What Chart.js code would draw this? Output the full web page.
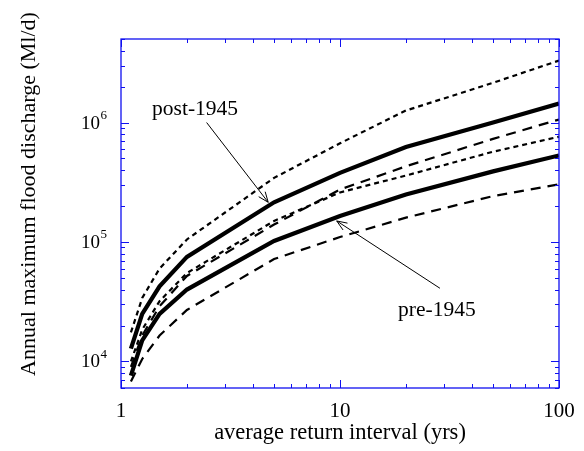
<!DOCTYPE html>
<html>
<head>
<meta charset="utf-8">
<script src="https://cdn.jsdelivr.net/npm/chart.js@4.4.1/dist/chart.umd.min.js"></script>
<style>
  body { margin: 0; background: #fff; }
  #wrap { width: 584px; height: 451px; }
</style>
</head>
<body>
<div id="wrap"><canvas id="floodChart" width="584" height="451"></canvas></div>
<script>
'use strict';

// average return interval (yrs)
let returnPeriods = [1.11, 1.25, 1.5, 2, 5, 10, 20, 50, 100];

// annual maximum flood discharge (Ml/d)
let post1945 = [12800, 25000, 42500, 75000, 215000, 379000, 624000, 1000000, 1440000];
let post1945Upper = [17500, 34000, 60000, 105000, 344000, 670000, 1260000, 2150000, 3300000];
let post1945Lower = [10000, 18500, 32000, 55000, 150000, 260000, 360000, 570000, 760000];
let pre1945 = [7600, 15000, 25000, 40000, 102000, 165000, 250000, 390000, 530000];
let pre1945Upper = [9000, 16500, 29000, 52000, 140000, 275000, 430000, 730000, 1060000];
let pre1945Lower = [6800, 10500, 16500, 27000, 72000, 110000, 160000, 242000, 304000];

let xTickLabels = [1, 10, 100];
let yTickExponents = [4, 5, 6];

const axisBlue = '#1010f0';
const serif = '"Liberation Serif", "Times New Roman", serif';

function toPoints(values) {
    return returnPeriods.map((t, i) => ({ x: t, y: values[i] }));
}

function series(values, width, dash) {
    return {
        data: toPoints(values),
        borderColor: '#000',
        borderWidth: width,
        borderDash: dash,
        pointRadius: 0,
        tension: 0,
        fill: false
    };
}

// inward ticks on all four sides, y labels with superscripts, arrows
let framePlugin = {
    id: 'frame',
    afterDraw(chart) {
        let ctx = chart.ctx;
        let area = chart.chartArea;
        let xs = chart.scales.x;
        let ys = chart.scales.y;
        ctx.save();

        ctx.strokeStyle = axisBlue;
        ctx.lineWidth = 1.3;
        ctx.strokeRect(area.left, area.top, area.right - area.left, area.bottom - area.top);

        ctx.lineWidth = 1;
        ctx.beginPath();
        for (let d = 0; d <= 2; d++) {
            for (let k = 1; k <= 9; k++) {
                let v = k * Math.pow(10, d);
                if (v > 100) continue;
                let px = Math.round(xs.getPixelForValue(v)) + 0.5;
                let len = k === 1 ? 8 : 4;
                ctx.moveTo(px, area.bottom);
                ctx.lineTo(px, area.bottom - len);
                ctx.moveTo(px, area.top);
                ctx.lineTo(px, area.top + len);
            }
        }
        for (let d = 3; d <= 6; d++) {
            for (let k = 1; k <= 9; k++) {
                let v = k * Math.pow(10, d);
                if (v < ys.min || v > ys.max) continue;
                let py = Math.round(ys.getPixelForValue(v)) + 0.5;
                let len = k === 1 ? 8 : 4;
                ctx.moveTo(area.left, py);
                ctx.lineTo(area.left + len, py);
                ctx.moveTo(area.right, py);
                ctx.lineTo(area.right - len, py);
            }
        }
        ctx.stroke();

        // y tick labels 10^n
        ctx.fillStyle = '#000';
        ctx.textBaseline = 'middle';
        yTickExponents.forEach(e => {
            let py = ys.getPixelForValue(Math.pow(10, e));
            ctx.font = '19px ' + serif;
            ctx.textAlign = 'right';
            ctx.fillText('10', 100, py + 1);
            ctx.font = '13px ' + serif;
            ctx.textAlign = 'left';
            ctx.fillText(String(e), 100.5, py - 7);
        });

        // y axis title
        ctx.save();
        ctx.translate(29, 194);
        ctx.rotate(-Math.PI / 2);
        ctx.font = '22px ' + serif;
        ctx.textAlign = 'center';
        ctx.textBaseline = 'middle';
        ctx.fillText('Annual maximum flood discharge (Ml/d)', 0, 0);
        ctx.restore();

        // annotations
        drawArrow(ctx, xs, ys, [2.46, 1.0e6], [4.7, 2.15e5]);
        drawArrow(ctx, xs, ys, [28.6, 4.1e4], [9.66, 1.5e5]);
        ctx.font = '21.5px ' + serif;
        ctx.textAlign = 'center';
        ctx.textBaseline = 'middle';
        ctx.fillText('post-1945', xs.getPixelForValue(2.18), ys.getPixelForValue(1.28e6));
        ctx.fillText('pre-1945', xs.getPixelForValue(27.7), ys.getPixelForValue(2.7e4));
        ctx.restore();
    }
};

function drawArrow(ctx, xs, ys, from, to) {
    let x0 = xs.getPixelForValue(from[0]);
    let y0 = ys.getPixelForValue(from[1]);
    let x1 = xs.getPixelForValue(to[0]);
    let y1 = ys.getPixelForValue(to[1]);
    let a = Math.atan2(y1 - y0, x1 - x0);
    ctx.strokeStyle = '#000';
    ctx.lineWidth = 1;
    ctx.beginPath();
    ctx.moveTo(x0, y0);
    ctx.lineTo(x1, y1);
    ctx.moveTo(x1 - 11 * Math.cos(a - 0.38), y1 - 11 * Math.sin(a - 0.38));
    ctx.lineTo(x1, y1);
    ctx.lineTo(x1 - 11 * Math.cos(a + 0.38), y1 - 11 * Math.sin(a + 0.38));
    ctx.stroke();
}

let ctx = document.getElementById('floodChart').getContext('2d');
let floodChart = new Chart(ctx, {
    type: 'line',
    data: {
        datasets: [
            series(post1945Upper, 2.2, [5, 4]),
            series(post1945, 4.2, []),
            series(post1945Lower, 2.2, [5, 4]),
            series(pre1945Upper, 2.2, [10, 7]),
            series(pre1945, 4.2, []),
            series(pre1945Lower, 2.2, [10, 7])
        ]
    },
    options: {
        responsive: false,
        animation: false,
        layout: { padding: { top: 39, right: 25, left: 0, bottom: 0 } },
        plugins: {
            legend: { display: false },
            tooltip: { enabled: false }
        },
        scales: {
            x: {
                type: 'logarithmic',
                min: 1,
                max: 100,
                grid: { display: false },
                border: { display: false },
                afterFit: s => { s.height = 63; },
                ticks: {
                    autoSkip: false,
                    maxRotation: 0,
                    color: '#000',
                    padding: 3,
                    font: { family: serif, size: 21 },
                    callback: v => xTickLabels.includes(v) ? String(v) : ''
                },
                title: {
                    display: true,
                    text: 'average return interval (yrs)',
                    color: '#000',
                    padding: { top: 2, bottom: 4 },
                    font: { family: serif, size: 22.5 }
                }
            },
            y: {
                type: 'logarithmic',
                min: 6000,
                max: 5000000,
                grid: { display: false },
                border: { display: false },
                afterFit: s => { s.width = 121; },
                ticks: { display: false }
            }
        }
    },
    plugins: [framePlugin]
});
</script>
</body>
</html>
